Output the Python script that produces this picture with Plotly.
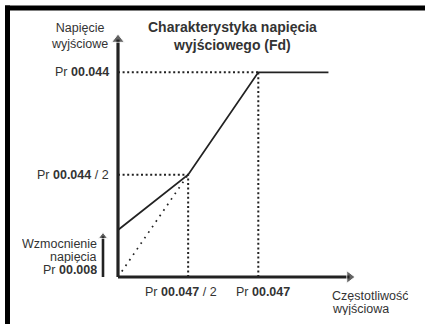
import plotly.graph_objects as go

# V/f characteristic, frequency in units of Pr 00.047, voltage in units of Pr 00.044
curve_freq = [0.0, 0.5, 1.0, 1.5]
curve_volt = [0.23, 0.5, 1.0, 1.0]

# plain linear V/f reference (no boost)
linear_freq = [0.0, 0.5]
linear_volt = [0.0, 0.5]

boost_level = 0.23          # Pr 00.008
knee_freq = 0.5             # Pr 00.047 / 2
knee_volt = 0.5             # Pr 00.044 / 2
rated_freq = 1.0            # Pr 00.047
rated_volt = 1.0            # Pr 00.044

y_tick_values = [rated_volt, knee_volt]
y_tick_labels = ["Pr <b>00.044</b>", "Pr <b>00.044</b> / 2"]
x_tick_values = [knee_freq, rated_freq]
x_tick_labels = ["Pr <b>00.047</b> / 2", "Pr <b>00.047</b>"]

x_axis_end = 1.65
y_axis_end = 1.16

W, H = 425, 324
X0_PX, X_SCALE = 118.0, 140.3
Y0_PX, Y_SCALE = 277.0, 204.7

LINE = "#222222"
TEXT = "#333333"
FONT = "Liberation Sans, Arial, sans-serif"

fig = go.Figure()

dotted = dict(color=LINE, width=2, dash="2px,2.6px")

# guide lines to the tick levels
fig.add_trace(go.Scatter(x=[0, rated_freq], y=[rated_volt, rated_volt], mode="lines", line=dotted))
fig.add_trace(go.Scatter(x=[rated_freq, rated_freq], y=[0, rated_volt], mode="lines", line=dotted))
fig.add_trace(go.Scatter(x=[0, knee_freq], y=[knee_volt, knee_volt], mode="lines", line=dotted))
fig.add_trace(go.Scatter(x=[knee_freq, knee_freq], y=[0, knee_volt], mode="lines", line=dotted))

# linear reference
fig.add_trace(go.Scatter(x=linear_freq, y=linear_volt, mode="lines",
                         line=dict(color=LINE, width=1.7, dash="1.7px,5px")))

# characteristic
fig.add_trace(go.Scatter(x=curve_freq, y=curve_volt, mode="lines",
                         line=dict(color=LINE, width=1.8)))

# axes with arrow heads
fig.add_trace(go.Scatter(x=[0, 0], y=[0, y_axis_end], mode="lines+markers",
                         line=dict(color=LINE, width=3.2),
                         marker=dict(symbol=["circle", "triangle-up"], size=[0, 11], color=LINE)))
fig.add_trace(go.Scatter(x=[0, x_axis_end], y=[0, 0], mode="lines+markers",
                         line=dict(color=LINE, width=3.2),
                         marker=dict(symbol=["circle", "triangle-right"], size=[0, 11], color=LINE)))

# boost arrow
boost_x = -15 / X_SCALE
boost_tip = boost_level - 3.0 / Y_SCALE
fig.add_trace(go.Scatter(x=[boost_x, boost_x], y=[0, boost_tip - 3.5 / Y_SCALE], mode="lines+markers",
                         line=dict(color=LINE, width=2.6),
                         marker=dict(symbol=["circle", "triangle-up"], size=[0, 8], color=LINE)))

font = dict(family=FONT, size=12.5, color=TEXT)
ann = []

for v, lab in zip(y_tick_values, y_tick_labels):
    ann.append(dict(x=0, y=v, xref="x", yref="y", text=lab, showarrow=False,
                    xanchor="right", yanchor="middle", xshift=-7, font=font))

for f, lab, shift in zip(x_tick_values, x_tick_labels, [-7, 5]):
    ann.append(dict(x=f, y=0, xref="x", yref="y", text=lab, showarrow=False,
                    xanchor="center", yanchor="middle", xshift=shift, yshift=-15, font=font))

# axis names
ann.append(dict(x=0, y=y_axis_end, xref="x", yref="y", text="Napięcie<br>wyjściowe",
                showarrow=False, xanchor="right", yanchor="middle", align="center",
                xshift=-8, yshift=4, font=font))
for txt, dy in [("Częstotliwość", -18), ("wyjściowa", -31.5)]:
    ann.append(dict(x=x_axis_end, y=0, xref="x", yref="y", text=txt,
                    showarrow=False, xanchor="left", yanchor="middle", align="left",
                    xshift=-19.5, yshift=dy, height=13, font=font))

# boost label, set tightly
for txt, dy in [("Wzmocnienie", 34), ("napięcia", 21), ("Pr <b>00.008</b>", 8)]:
    ann.append(dict(x=boost_x, y=0, xref="x", yref="y", text=txt, showarrow=False,
                    xanchor="right", yanchor="middle", xshift=-4, yshift=dy, height=13,
                    font=font))

# title
ann.append(dict(x=232.5 / W, y=1 - 36.5 / H, xref="paper", yref="paper",
                text="<b>Charakterystyka napięcia<br>wyjściowego (Fd)</b>", showarrow=False,
                xanchor="center", yanchor="middle", align="center",
                font=dict(family=FONT, size=14, color=TEXT)))

# frame: top and left edges
frame = dict(color="black", width=5)
shapes = [
    dict(type="line", xref="paper", yref="paper", x0=5 / W, x1=1.2, y0=1 - 8 / H, y1=1 - 8 / H,
         line=frame, layer="above"),
    dict(type="line", xref="paper", yref="paper", x0=7.5 / W, x1=7.5 / W, y0=-0.2, y1=1 - 5.5 / H,
         line=frame, layer="above"),
]

fig.update_layout(
    width=W, height=H,
    margin=dict(l=0, r=0, t=0, b=0),
    paper_bgcolor="white", plot_bgcolor="white",
    showlegend=False,
    xaxis=dict(range=[-X0_PX / X_SCALE, (W - X0_PX) / X_SCALE], visible=False, fixedrange=True),
    yaxis=dict(range=[(Y0_PX - H) / Y_SCALE, Y0_PX / Y_SCALE], visible=False, fixedrange=True),
    annotations=ann,
    shapes=shapes,
)

fig.write_html("out.html")
